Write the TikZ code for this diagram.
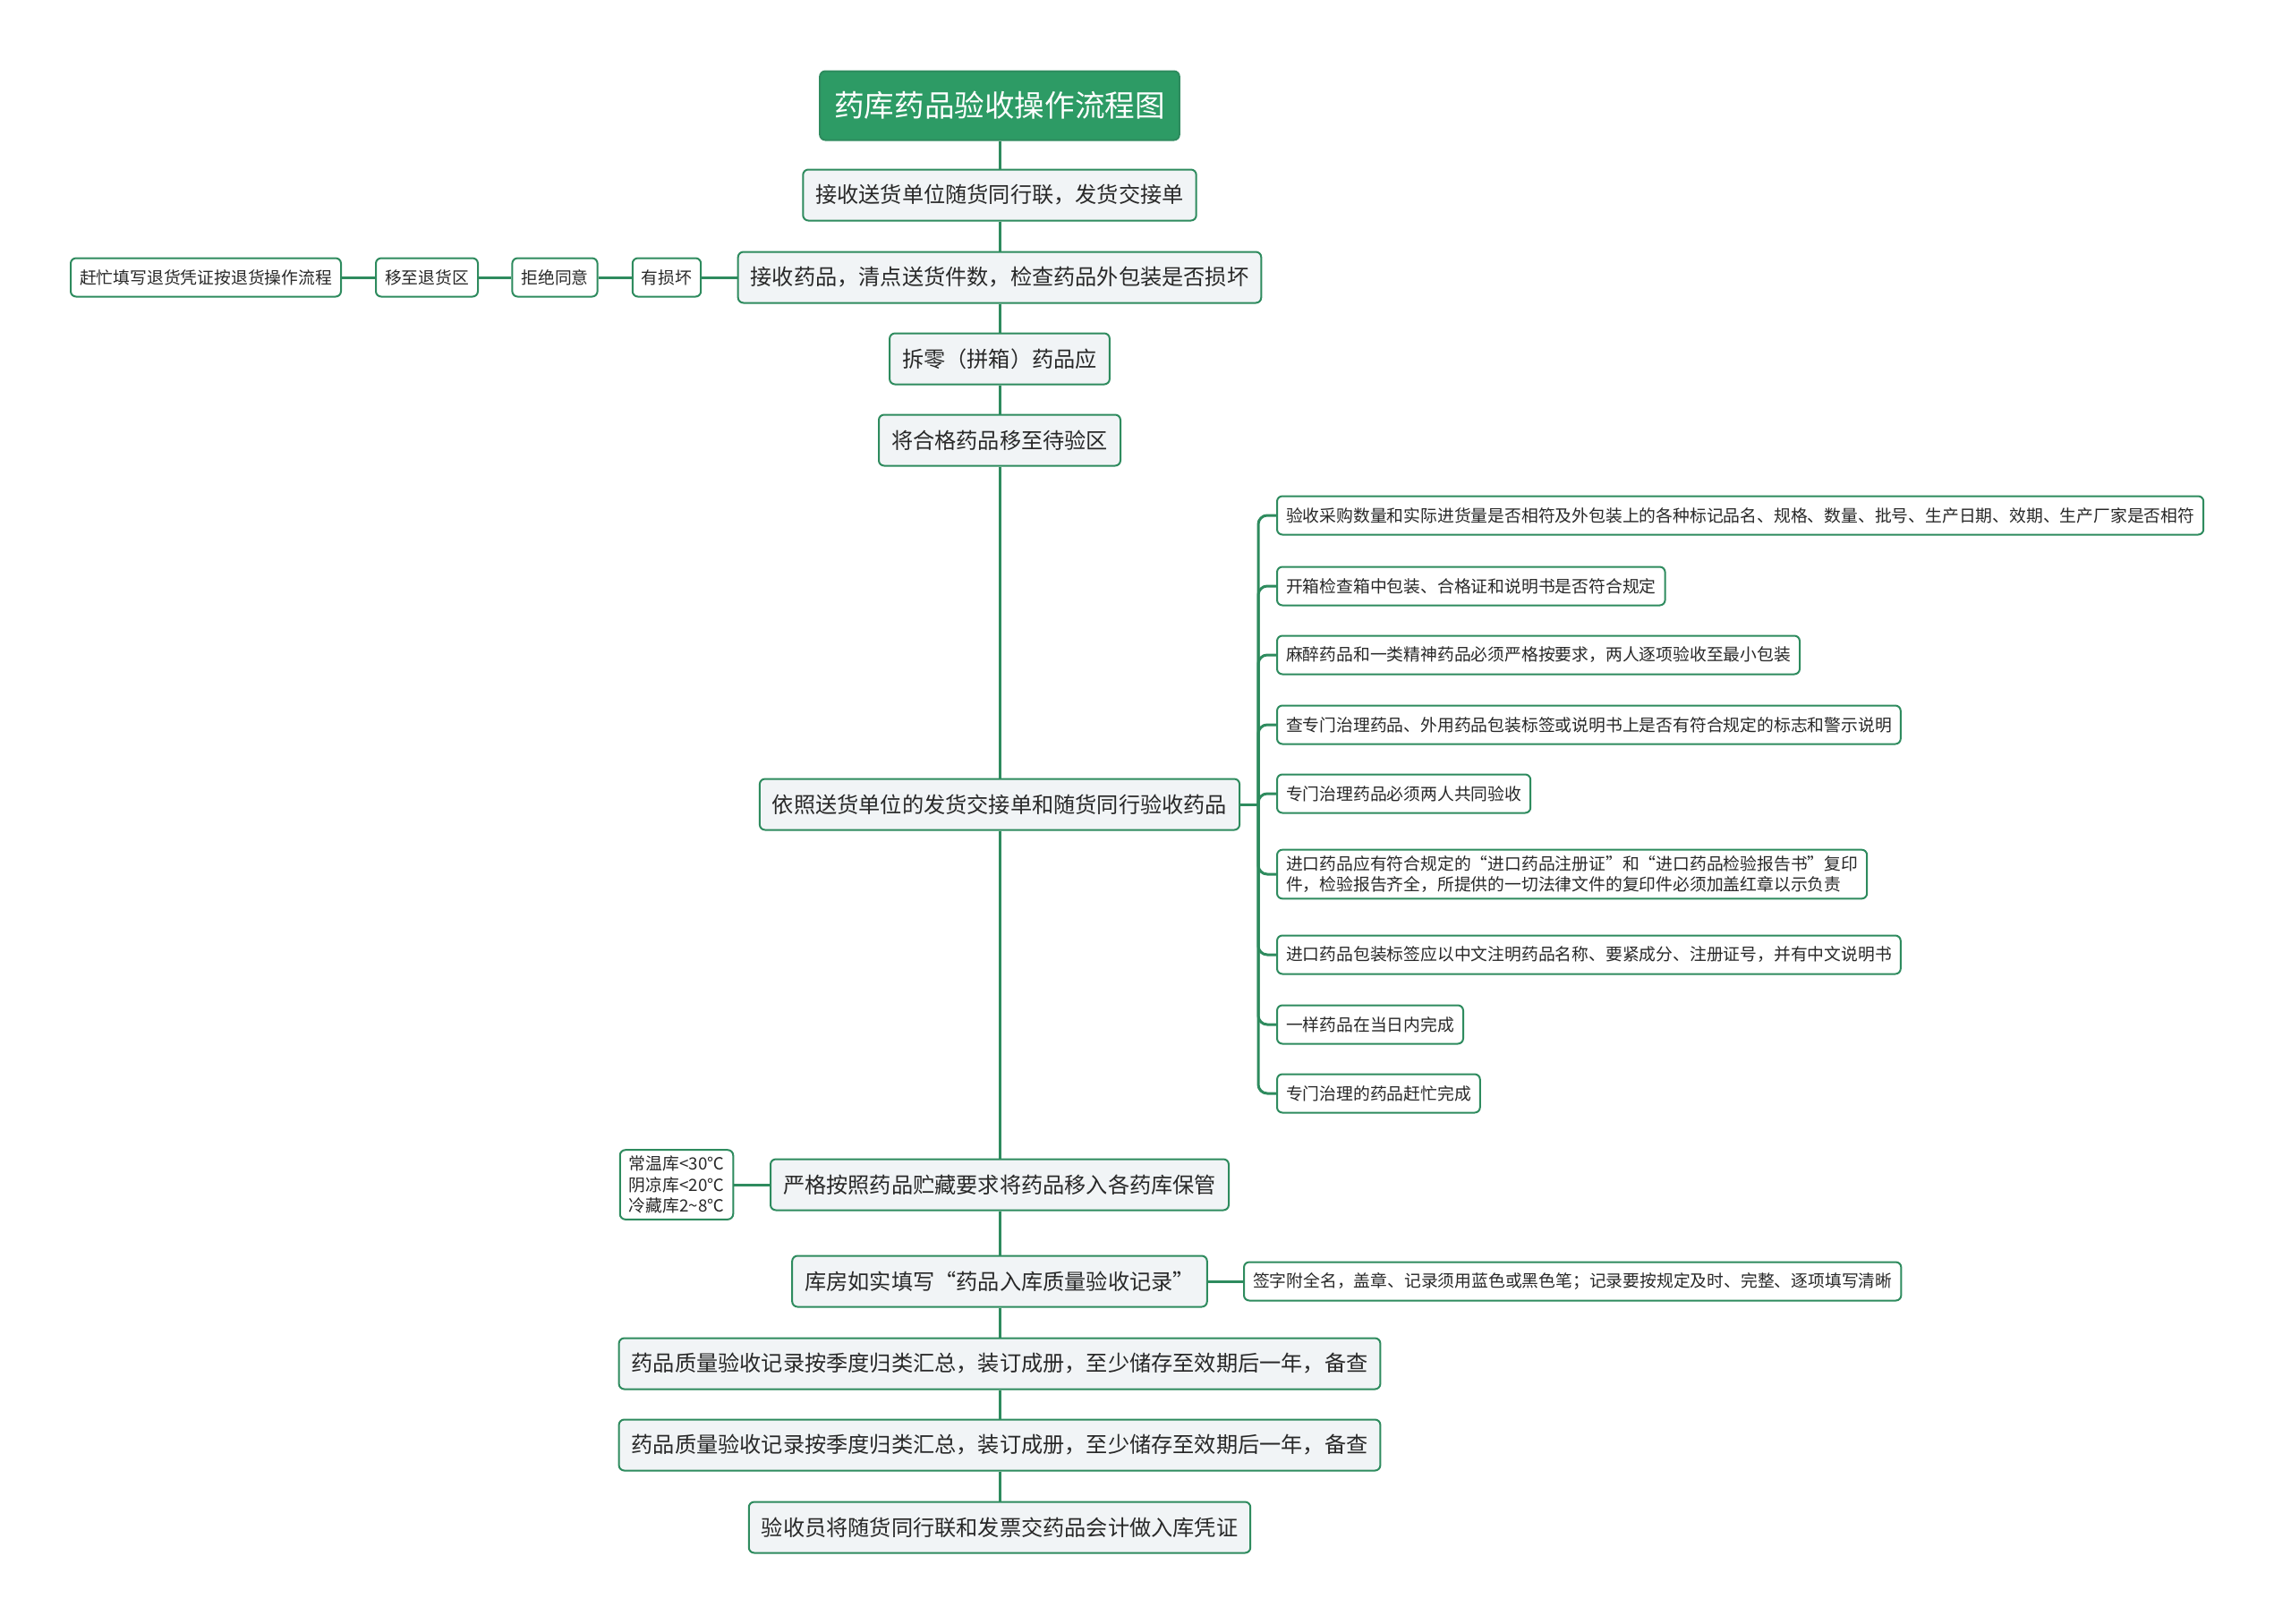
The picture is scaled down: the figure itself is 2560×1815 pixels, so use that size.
\documentclass[tikz,border=0pt]{standalone}
\usepackage{fontspec}
\setmainfont{Noto Sans CJK SC}
\usetikzlibrary{positioning}
\definecolor{LeafGreen}{RGB}{46,139,94}
\definecolor{HeadGreen}{RGB}{45,155,101}
\definecolor{BoxFill}{RGB}{241,244,246}
\definecolor{InkGray}{RGB}{40,40,40}
\tikzset{
  head/.style={draw=LeafGreen,fill=HeadGreen,text=white,rounded corners=3pt,line width=1pt,
    inner xsep=8pt,minimum height=38.5pt,font=\fontsize{16.8}{20}\selectfont},
  mainbox/.style={draw=LeafGreen,fill=BoxFill,text=InkGray,rounded corners=3pt,line width=1pt,
    inner xsep=7pt,minimum height=28.5pt,font=\fontsize{12.1}{14}\selectfont},
  leaf/.style={draw=LeafGreen,fill=white,text=InkGray,rounded corners=3pt,line width=1pt,
    inner xsep=5pt,minimum height=21.5pt,align=left,font=\fontsize{9.4}{11.7}\selectfont},
  link/.style={draw=LeafGreen,line width=1.5pt},
}
\begin{document}
\begin{tikzpicture}[x=0.5pt,y=-0.5pt]
\useasboundingbox[fill=white] (0,0) rectangle (2560,1815);
% trunk
\node[head] (t) at (1117,118) {药库药品验收操作流程图};
\node[mainbox] (s1) at (1117,218) {接收送货单位随货同行联，发货交接单};
\node[mainbox] (s2) at (1117,310) {接收药品，清点送货件数，检查药品外包装是否损坏};
\node[mainbox] (s3) at (1117,401) {拆零（拼箱）药品应};
\node[mainbox] (s4) at (1117,492) {将合格药品移至待验区};
\node[mainbox] (s5) at (1117,899) {依照送货单位的发货交接单和随货同行验收药品};
\node[mainbox] (s6) at (1117,1324) {严格按照药品贮藏要求将药品移入各药库保管};
\node[mainbox] (s7) at (1117,1432) {库房如实填写“药品入库质量验收记录”};
\node[mainbox] (s8) at (1117,1524) {药品质量验收记录按季度归类汇总，装订成册，至少储存至效期后一年，备查};
\node[mainbox] (s9) at (1117,1615) {药品质量验收记录按季度归类汇总，装订成册，至少储存至效期后一年，备查};
\node[mainbox] (s10) at (1117,1707) {验收员将随货同行联和发票交药品会计做入库凭证};
% return chain
\node[leaf] (l1) at (745,310) {有损坏};
\node[leaf] (l2) at (620,310) {拒绝同意};
\node[leaf] (l3) at (477,310) {移至退货区};
\node[leaf] (l4) at (230,310) {赶忙填写退货凭证按退货操作流程};
% checks
\node[leaf,anchor=west] (c1) at (1426,576) {验收采购数量和实际进货量是否相符及外包装上的各种标记品名、规格、数量、批号、生产日期、效期、生产厂家是否相符};
\node[leaf,anchor=west] (c2) at (1426,655) {开箱检查箱中包装、合格证和说明书是否符合规定};
\node[leaf,anchor=west] (c3) at (1426,732) {麻醉药品和一类精神药品必须严格按要求，两人逐项验收至最小包装};
\node[leaf,anchor=west] (c4) at (1426,810) {查专门治理药品、外用药品包装标签或说明书上是否有符合规定的标志和警示说明};
\node[leaf,anchor=west] (c5) at (1426,887) {专门治理药品必须两人共同验收};
\node[leaf,anchor=west] (c6) at (1426,977) {进口药品应有符合规定的“进口药品注册证”和“进口药品检验报告书”复印\\件，检验报告齐全，所提供的一切法律文件的复印件必须加盖红章以示负责};
\node[leaf,anchor=west] (c7) at (1426,1067) {进口药品包装标签应以中文注明药品名称、要紧成分、注册证号，并有中文说明书};
\node[leaf,anchor=west] (c8) at (1426,1145) {一样药品在当日内完成};
\node[leaf,anchor=west] (c9) at (1426,1222) {专门治理的药品赶忙完成};
% side notes
\node[leaf] (temp) at (756,1324) {常温库<30℃\\阴凉库<20℃\\冷藏库2\textasciitilde 8℃};
\node[leaf,anchor=west] (sign) at (1389,1432) {签字附全名，盖章、记录须用蓝色或黑色笔；记录要按规定及时、完整、逐项填写清晰};
\coordinate (bus) at (1406,899);
% connectors
\draw[link] (t)--(s1);
\draw[link] (s1)--(s2);
\draw[link] (s2)--(s3);
\draw[link] (s3)--(s4);
\draw[link] (s4)--(s5);
\draw[link] (s5)--(s6);
\draw[link] (s6)--(s7);
\draw[link] (s7)--(s8);
\draw[link] (s8)--(s9);
\draw[link] (s9)--(s10);
\draw[link] (s2)--(l1);
\draw[link] (l1)--(l2);
\draw[link] (l2)--(l3);
\draw[link] (l3)--(l4);
\draw[link] (s5)--(bus);
\foreach \i in {1,...,9}
  \draw[link,rounded corners=5pt] (bus) |- (c\i.west);
\draw[link] (s6)--(temp);
\draw[link] (s7)--(sign);
\end{tikzpicture}
\end{document}
